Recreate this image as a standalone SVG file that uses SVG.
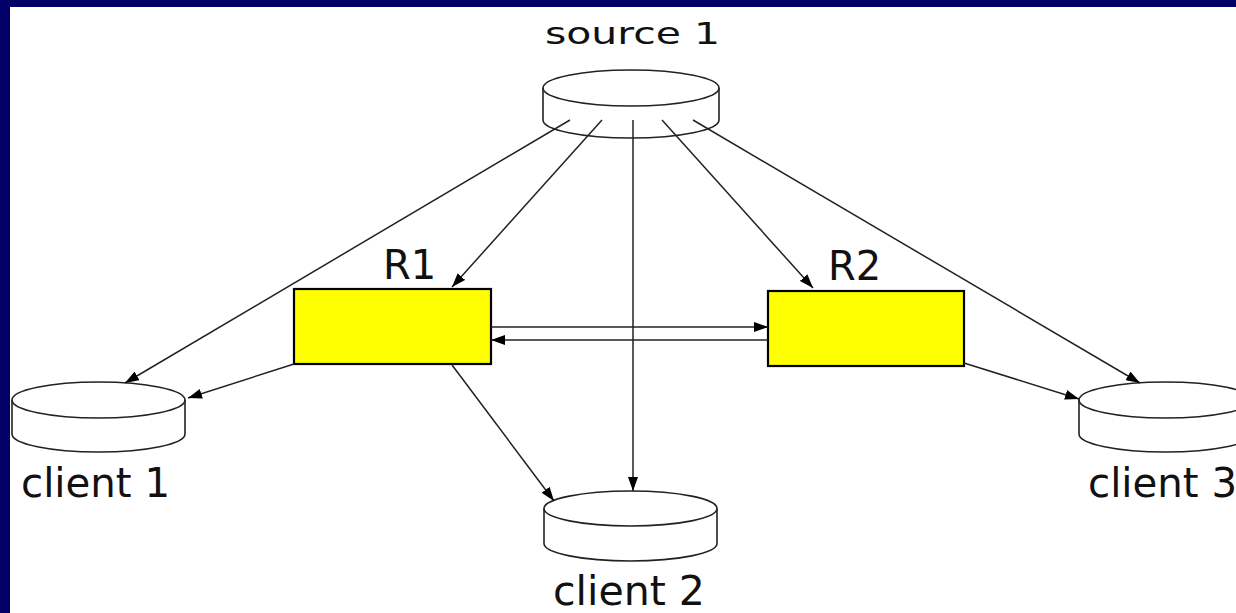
<svg xmlns="http://www.w3.org/2000/svg" width="1236" height="613" viewBox="0 0 1236 613">
<defs>
<style>
.cyl{fill:#ffffff;stroke:#222;stroke-width:1.6}
.box{fill:#ffff00;stroke:#000;stroke-width:2.2}
.lbl{font-family:"DejaVu Sans",Verdana,sans-serif;font-size:40px;fill:#111}
.src{font-size:30px}
.edge{stroke:#222;stroke-width:1.5;fill:none;marker-end:url(#ah)}
</style>
<marker id="ah" viewBox="0 0 14 10" refX="14" refY="5" markerWidth="14" markerHeight="10" markerUnits="userSpaceOnUse" orient="auto">
<path d="M0,0 L14,5 L0,10 z" fill="#000"/>
</marker>
</defs>
<rect x="0" y="0" width="1236" height="613" fill="#000066"/>
<rect x="10" y="7" width="1226" height="606" fill="#ffffff"/>

<g id="source1">
<path class="cyl" d="M543,88 V120 A88,18 0 0 0 719,120 V88"/>
<ellipse class="cyl" cx="631" cy="88" rx="88" ry="18"/>
<text class="lbl src" x="545" y="44" textLength="175" lengthAdjust="spacingAndGlyphs">source 1</text>
</g>

<g id="client1">
<path class="cyl" d="M12,400 V434 A86.5,18 0 0 0 185,434 V400"/>
<ellipse class="cyl" cx="98.5" cy="400" rx="86.5" ry="18"/>
<text class="lbl" x="21" y="497" textLength="149" lengthAdjust="spacingAndGlyphs">client 1</text>
</g>

<g id="client2">
<path class="cyl" d="M544,508.5 V543.5 A86.5,17.5 0 0 0 717,543.5 V508.5"/>
<ellipse class="cyl" cx="630.5" cy="508.5" rx="86.5" ry="17.5"/>
<text class="lbl" x="553" y="605" textLength="152" lengthAdjust="spacingAndGlyphs">client 2</text>
</g>

<g id="client3">
<path class="cyl" d="M1079,400 V434 A86.5,18 0 0 0 1252,434 V400"/>
<ellipse class="cyl" cx="1165.5" cy="400" rx="86.5" ry="18"/>
<text class="lbl" x="1088" y="497" textLength="149" lengthAdjust="spacingAndGlyphs">client 3</text>
</g>

<g id="R1">
<rect class="box" x="294" y="289" width="197" height="75"/>
<text class="lbl" x="383" y="279">R1</text>
</g>

<g id="R2">
<rect class="box" x="768" y="291" width="196" height="75"/>
<text class="lbl" x="828" y="280">R2</text>
</g>

<g id="connectors">
<line class="edge" x1="570" y1="120" x2="125" y2="383"/>
<line class="edge" x1="602" y1="120" x2="452" y2="287"/>
<line class="edge" x1="633" y1="120" x2="633" y2="491"/>
<line class="edge" x1="662" y1="120" x2="813" y2="288"/>
<line class="edge" x1="693" y1="120" x2="1140" y2="383"/>
<line class="edge" x1="294" y1="364" x2="188" y2="398"/>
<line class="edge" x1="452" y1="365" x2="554" y2="501"/>
<line class="edge" x1="964" y1="363" x2="1079" y2="399"/>
<line class="edge" x1="491" y1="327" x2="768" y2="327"/>
<line class="edge" x1="768" y1="340" x2="491" y2="340"/>
</g>
</svg>
